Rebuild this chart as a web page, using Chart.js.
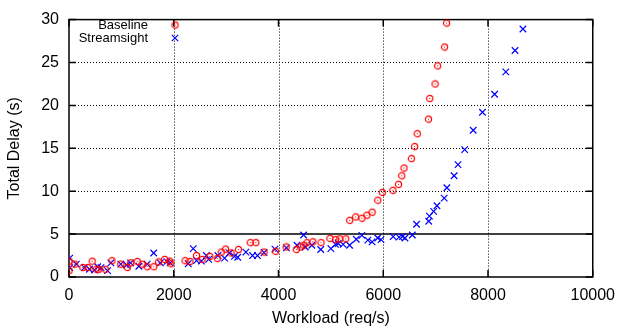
<!DOCTYPE html>
<html>
<head>
<meta charset="UTF-8">
<title>Total Delay vs Workload</title>
<script src="https://cdn.jsdelivr.net/npm/chart.js@4.4.1/dist/chart.umd.min.js"></script>
<style>
  html, body { margin: 0; padding: 0; background: #fff; }
  #contenedor { width: 624px; height: 331px; }
</style>
</head>
<body>
<div id="contenedor"><canvas id="grafico" width="624" height="331"></canvas></div>
<script>
// ejes
const xTicks = [0, 2000, 4000, 6000, 8000, 10000];
const yTicks = [0, 5, 10, 15, 20, 25, 30];
const seriesNames = ['Baseline', 'Streamsight'];

// Baseline (circulos rojos)
const baselineX = [0, 0, 108, 264, 358, 442, 517, 566, 692, 819, 989, 1113, 1177, 1302, 1396, 1491,
  1617, 1711, 1825, 1919, 1943, 2215, 2309, 2434, 2541, 2687, 2830, 2906, 2988, 3094, 3234, 3460,
  3566, 3724, 3943, 4145, 4340, 4415, 4479, 4542, 4655, 4811, 4981, 5089, 5170, 5283, 5358, 5472,
  5592, 5687, 5787, 5894, 5981, 6183, 6291, 6353, 6396, 6536, 6598, 6649, 6862, 6887, 6989, 7038,
  7170, 7208];
const baselineY = [1.85, 0.75, 1.5, 1.1, 1.1, 1.85, 0.9, 0.9, 0.9, 1.9, 1.5, 1.1, 1.65, 1.8, 1.5, 1.2,
  1.2, 1.75, 2.05, 1.85, 1.55, 1.9, 1.8, 2.5, 2.05, 2.4, 2.15, 2.9, 3.25, 2.8, 3.2, 4.0,
  4.0, 2.9, 3.0, 3.5, 3.2, 3.5, 3.7, 4.0, 4.1, 4.0, 4.5, 4.35, 4.45, 4.45, 6.6, 7.0,
  6.85, 7.2, 7.55, 8.95, 9.85, 10.1, 10.8, 11.8, 12.7, 13.8, 15.2, 16.7, 18.4, 20.8, 22.5, 24.6,
  26.8, 29.6];

// Streamsight (cruces azules)
const streamX = [13, 13, 140, 296, 390, 485, 549, 611, 736, 800, 989, 1100, 1177, 1334, 1491, 1617,
  1743, 1868, 1932, 2277, 2372, 2434, 2528, 2623, 2668, 2843, 2970, 3064, 3158, 3221, 3377, 3504,
  3598, 3724, 3932, 4151, 4353, 4479, 4510, 4636, 4806, 5000, 5089, 5140, 5234, 5358, 5485, 5592,
  5706, 5787, 5894, 5957, 6189, 6302, 6366, 6415, 6555, 6636, 6868, 6881, 6962, 7026, 7164, 7215,
  7353, 7428, 7555, 7717, 7894, 8126, 8340, 8516, 8667];
const streamY = [2.2, 1.1, 1.5, 1.1, 0.9, 0.8, 1.2, 1.1, 0.75, 1.65, 1.5, 1.4, 1.65, 1.25, 1.5, 2.8,
  1.65, 1.8, 1.65, 1.55, 3.3, 1.9, 1.85, 2.5, 2.05, 2.5, 2.2, 2.8, 2.4, 2.3, 2.9, 2.5,
  2.5, 2.85, 3.25, 3.4, 3.7, 4.9, 3.5, 3.7, 3.2, 3.3, 3.8, 3.9, 3.8, 3.7, 4.4, 4.85,
  4.3, 4.1, 4.55, 4.35, 4.7, 4.65, 4.7, 4.55, 4.9, 6.15, 6.5, 7.1, 7.65, 8.3, 9.2, 10.4,
  11.8, 13.1, 14.85, 17.1, 19.2, 21.3, 23.9, 26.4, 28.9];

const lineaReferencia = 5;
const fuente = '"Liberation Sans", Arial, Helvetica, sans-serif';

function juntar(xs, ys) {
    return xs.map((x, i) => ({ x: x, y: ys[i] }));
}

// circulo con punto central, estilo gnuplot
function hacerCirculo(color) {
    const c = document.createElement('canvas');
    c.width = 9; c.height = 9;
    const g = c.getContext('2d');
    g.strokeStyle = color;
    g.lineWidth = 1.2;
    g.beginPath();
    g.arc(4.5, 4.5, 3.1, 0, Math.PI * 2);
    g.stroke();
    g.fillStyle = color;
    g.fillRect(4, 4, 1, 1);
    return c;
}
const circuloRojo = hacerCirculo('#ff0000');

// marco, rejilla punteada, ticks hacia dentro y linea en y=5
const marcoPlugin = {
    id: 'marco',
    beforeDatasetsDraw(chart) {
        const { ctx, chartArea: a, scales } = chart;
        const sx = scales.x, sy = scales.y;
        ctx.save();
        ctx.strokeStyle = '#000';
        ctx.lineWidth = 1;
        ctx.setLineDash([1, 2]);
        sx.ticks.forEach(t => {
            const px = Math.round(sx.getPixelForValue(t.value)) + 0.5;
            if (t.value <= sx.min || t.value >= sx.max) return;
            ctx.beginPath(); ctx.moveTo(px, a.top); ctx.lineTo(px, a.bottom); ctx.stroke();
        });
        sy.ticks.forEach(t => {
            const py = Math.round(sy.getPixelForValue(t.value)) + 0.5;
            if (t.value <= sy.min || t.value >= sy.max || t.value === lineaReferencia) return;
            ctx.beginPath(); ctx.moveTo(a.left, py); ctx.lineTo(a.right, py); ctx.stroke();
        });
        ctx.setLineDash([]);
        ctx.lineWidth = 1.5;
        const yRef = sy.getPixelForValue(lineaReferencia);
        ctx.beginPath(); ctx.moveTo(a.left, yRef); ctx.lineTo(a.right, yRef); ctx.stroke();
        const largo = 7;
        sx.ticks.forEach(t => {
            const px = sx.getPixelForValue(t.value);
            ctx.beginPath();
            ctx.moveTo(px, a.bottom); ctx.lineTo(px, a.bottom - largo);
            ctx.moveTo(px, a.top); ctx.lineTo(px, a.top + largo);
            ctx.stroke();
        });
        sy.ticks.forEach(t => {
            const py = sy.getPixelForValue(t.value);
            ctx.beginPath();
            ctx.moveTo(a.left, py); ctx.lineTo(a.left + largo, py);
            ctx.moveTo(a.right, py); ctx.lineTo(a.right - largo, py);
            ctx.stroke();
        });
        ctx.strokeRect(a.left, a.top, a.right - a.left, a.bottom - a.top);
        ctx.restore();
    },
    afterDraw(chart) {
        // leyenda: texto a la izquierda, marcador a la derecha
        const ctx = chart.ctx;
        ctx.save();
        ctx.font = '13px ' + fuente;
        ctx.fillStyle = '#000';
        ctx.textAlign = 'right';
        ctx.textBaseline = 'middle';
        const xTexto = 148, xMarca = 175;
        chart.data.datasets.forEach((ds, i) => {
            const y = 25 + i * 13;
            ctx.fillText(ds.label, xTexto, y);
            if (ds.pointStyle === 'crossRot') {
                ctx.strokeStyle = ds.borderColor;
                ctx.lineWidth = ds.borderWidth;
                const r = 3.2;
                ctx.beginPath();
                ctx.moveTo(xMarca - r, y - r); ctx.lineTo(xMarca + r, y + r);
                ctx.moveTo(xMarca - r, y + r); ctx.lineTo(xMarca + r, y - r);
                ctx.stroke();
            } else {
                ctx.drawImage(ds.pointStyle, xMarca - 4.5, y - 4.5);
            }
        });
        ctx.restore();
    }
};

const ctx = document.getElementById('grafico').getContext('2d');
new Chart(ctx, {
    type: 'scatter',
    data: {
        datasets: [
            {
                label: seriesNames[0],
                data: juntar(baselineX, baselineY),
                pointStyle: circuloRojo,
                borderColor: '#ff0000',
                backgroundColor: 'rgba(0,0,0,0)',
                pointRadius: 4
            },
            {
                label: seriesNames[1],
                data: juntar(streamX, streamY),
                pointStyle: 'crossRot',
                borderColor: '#0000ff',
                backgroundColor: '#0000ff',
                borderWidth: 1.2,
                pointRadius: 4.6
            }
        ]
    },
    plugins: [marcoPlugin],
    options: {
        responsive: false,
        animation: false,
        events: [],
        layout: { padding: { top: 9, right: 24, left: 0, bottom: 0 } },
        plugins: {
            legend: { display: false },
            tooltip: { enabled: false }
        },
        scales: {
            x: {
                type: 'linear',
                min: 0,
                max: 10000,
                afterBuildTicks: s => { s.ticks = xTicks.map(v => ({ value: v })); },
                afterFit: s => { s.height = 54; },
                grid: { display: false, drawTicks: false },
                border: { display: false },
                ticks: {
                    autoSkip: false,
                    maxRotation: 0,
                    padding: 9,
                    color: '#000',
                    font: { family: fuente, size: 16 },
                    callback: v => String(v)
                },
                title: {
                    display: true,
                    text: 'Workload (req/s)',
                    color: '#000',
                    font: { family: fuente, size: 16 },
                    padding: { top: 4, bottom: 3 }
                }
            },
            y: {
                type: 'linear',
                min: 0,
                max: 30,
                afterBuildTicks: s => { s.ticks = yTicks.map(v => ({ value: v })); },
                afterFit: s => { s.width = 69; },
                grid: { display: false, drawTicks: false },
                border: { display: false },
                ticks: {
                    autoSkip: false,
                    padding: 10,
                    color: '#000',
                    font: { family: fuente, size: 16 },
                    callback: v => String(v)
                },
                title: {
                    display: true,
                    text: 'Total Delay (s)',
                    color: '#000',
                    font: { family: fuente, size: 16 },
                    padding: { top: 5, bottom: 4 }
                }
            }
        }
    }
});
</script>
</body>
</html>
